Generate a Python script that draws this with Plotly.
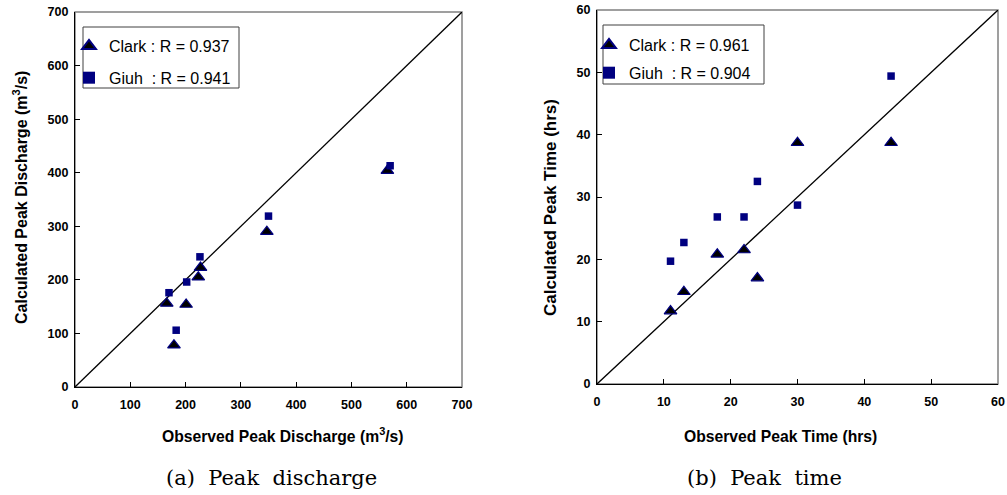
import plotly.graph_objects as go

W, H = 1007, 495
OFF = 0  # page body margin removed via post_script

# ---- data ----
# (a) Peak discharge (m3/s)
clark_q_obs = [166, 179, 201, 223, 227, 347, 565]
clark_q_cal = [156, 78, 154, 205, 223, 290, 404]
giuh_q_obs = [170, 183, 202, 226, 350, 570]
giuh_q_cal = [176, 106, 196, 243, 319, 413]
line_q = [0, 700]

# (b) Peak time (hrs)
clark_t_obs = [11, 13, 18, 22, 24, 30, 44]
clark_t_cal = [11.7, 14.8, 20.8, 21.5, 17.0, 38.7, 38.7]
giuh_t_obs = [11, 13, 18, 22, 24, 30, 44]
giuh_t_cal = [19.7, 22.7, 26.8, 26.8, 32.5, 28.7, 49.4]
line_t = [0, 60]

legend_a = ["Clark : R = 0.937", "Giuh\u00a0\u00a0: R = 0.941"]
legend_b = ["Clark : R = 0.961", "Giuh\u00a0\u00a0: R = 0.904"]

NAVY = "#000080"


def px(x):
    return (x - OFF) / W


def py(y):
    return 1 - (y - OFF) / H


fig = go.Figure()

tri = dict(symbol="triangle-up", size=11, color="black", line=dict(color=NAVY, width=1.2))
sq = dict(symbol="square", size=7.5, color=NAVY, line=dict(width=0))

# left panel
fig.add_trace(go.Scatter(x=line_q, y=line_q, mode="lines", line=dict(color="black", width=1.3),
                         showlegend=False, xaxis="x", yaxis="y", hoverinfo="skip"))
fig.add_trace(go.Scatter(x=clark_q_obs, y=clark_q_cal, mode="markers", marker=tri, name=legend_a[0],
                         xaxis="x", yaxis="y", legend="legend", legendgroup="a1"))
fig.add_trace(go.Scatter(x=giuh_q_obs, y=giuh_q_cal, mode="markers", marker=sq, name=legend_a[1],
                         xaxis="x", yaxis="y", legend="legend", legendgroup="a2"))

# right panel
fig.add_trace(go.Scatter(x=line_t, y=line_t, mode="lines", line=dict(color="black", width=1.3),
                         showlegend=False, xaxis="x2", yaxis="y2", hoverinfo="skip"))
fig.add_trace(go.Scatter(x=clark_t_obs, y=clark_t_cal, mode="markers", marker=tri, name=legend_b[0],
                         xaxis="x2", yaxis="y2", legend="legend2", legendgroup="b1"))
fig.add_trace(go.Scatter(x=giuh_t_obs, y=giuh_t_cal, mode="markers", marker=sq, name=legend_b[1],
                         xaxis="x2", yaxis="y2", legend="legend2", legendgroup="b2"))

tickfont = dict(family="Liberation Sans, Arial", size=12.5, color="black", weight="bold")
axcommon = dict(showgrid=False, zeroline=False, showline=True, linecolor="black", linewidth=1.3,
                ticks="inside", ticklen=5, tickwidth=1, tickcolor="black", tickfont=tickfont,
                automargin=False, fixedrange=True, ticklabeloverflow="allow")
xcommon = dict(ticklabelstandoff=6, **axcommon)
ycommon = dict(ticklabelstandoff=3, **axcommon)

legfont = dict(family="Liberation Sans, Arial", size=16, color="black")
fig.update_layout(
    width=W, height=H,
    margin=dict(l=0, r=0, t=0, b=0),
    paper_bgcolor="white", plot_bgcolor="white",
    xaxis=dict(domain=[px(75), px(462)], range=[0, 700], dtick=100, anchor="y", **xcommon),
    yaxis=dict(domain=[py(387), py(12)], range=[0, 700], dtick=100, anchor="x", **ycommon),
    xaxis2=dict(domain=[px(597), px(998)], range=[0, 60], dtick=10, anchor="y2", **xcommon),
    yaxis2=dict(domain=[py(384), py(10)], range=[0, 60], dtick=10, anchor="x2", **ycommon),
    legend=dict(x=px(69), y=py(29), xanchor="left", yanchor="top", bgcolor="rgba(0,0,0,0)",
                borderwidth=0, font=legfont, tracegroupgap=8, itemsizing="constant"),
    legend2=dict(x=px(589), y=py(28), xanchor="left", yanchor="top", bgcolor="rgba(0,0,0,0)",
                 borderwidth=0, font=legfont, tracegroupgap=4, itemsizing="constant"),
    showlegend=True,
)

# plot frames (grey top/right) and legend boxes
shapes = []
for xr, yr in (("x domain", "y domain"), ("x2 domain", "y2 domain")):
    shapes.append(dict(type="rect", xref=xr, yref=yr, x0=0, x1=1, y0=0, y1=1,
                       line=dict(color="#808080", width=1.5), layer="below"))
shapes.append(dict(type="rect", xref="paper", yref="paper", x0=px(83), x1=px(239), y0=py(88), y1=py(27),
                   line=dict(color="#404040", width=1)))
shapes.append(dict(type="rect", xref="paper", yref="paper", x0=px(603), x1=px(764), y0=py(84), y1=py(25),
                   line=dict(color="#404040", width=1)))
fig.update_layout(shapes=shapes)

titlefont = dict(family="Liberation Sans, Arial", size=15.7, color="black", weight="bold")
capfont = dict(family="DejaVu Serif", size=21, color="black")
ann = [
    dict(text="Observed Peak Discharge (m<sup>3</sup>/s)", x=px(283), y=py(435), font=titlefont),
    dict(text="Calculated Peak Discharge (m<sup>3</sup>/s)", x=px(20), y=py(198), font=dict(titlefont, size=16),
         textangle=-90),
    dict(text="Observed Peak Time (hrs)", x=px(780), y=py(436), font=titlefont),
    dict(text="Calculated Peak Time (hrs)", x=px(550), y=py(208), font=dict(titlefont, size=17),
         textangle=-90),
    dict(text="(a)\u00a0 Peak\u00a0 discharge", x=px(271), y=py(478), font=capfont),
    dict(text="(b)\u00a0 Peak\u00a0 time", x=px(764), y=py(478), font=capfont),
]
for a in ann:
    a.update(xref="paper", yref="paper", showarrow=False, xanchor="center", yanchor="middle")
fig.update_layout(annotations=ann)

fig.write_html("out.html", config={"displayModeBar": False},
               post_script="document.body.style.margin='0';document.body.style.overflow='hidden';")
